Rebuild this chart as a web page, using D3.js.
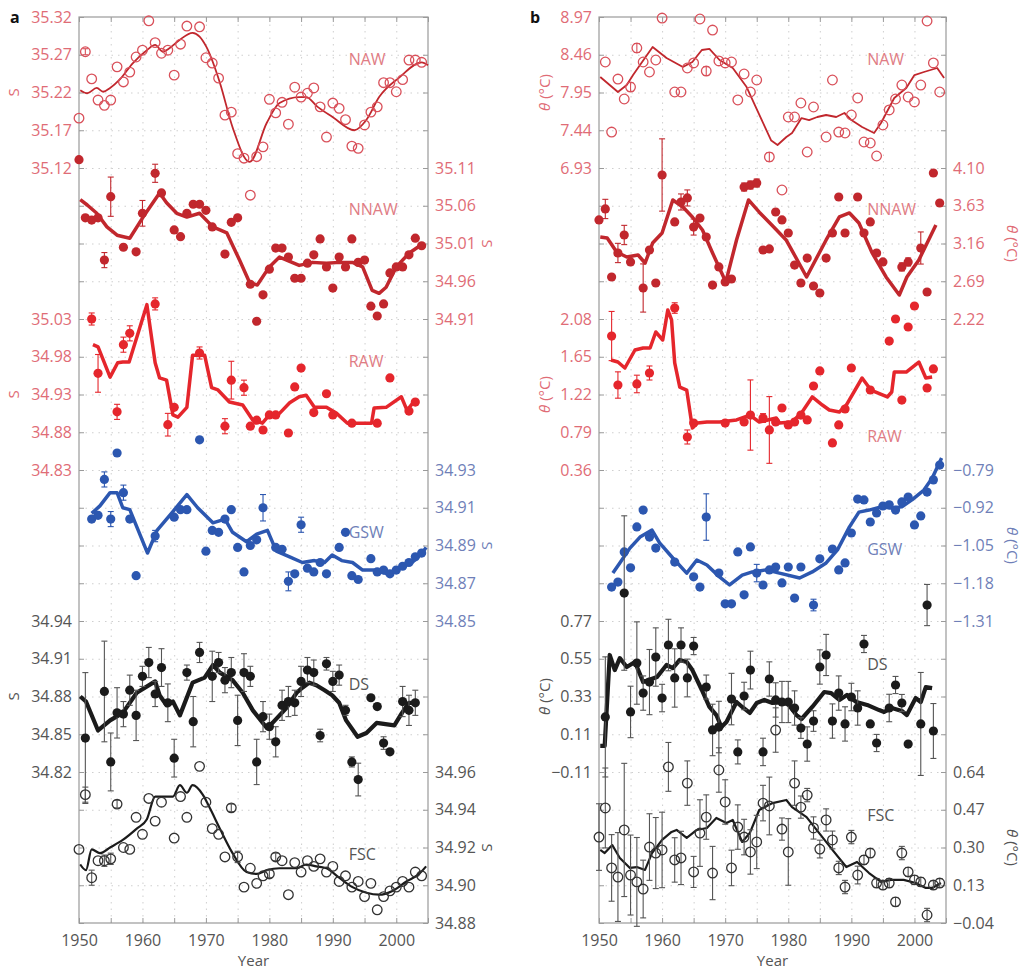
<!DOCTYPE html>
<html>
<head>
<meta charset="utf-8">
<script src="https://cdn.jsdelivr.net/npm/d3@7"></script>
<style>
  body { margin: 0; background: #fff; }
  text { font-family: "Open Sans", "DejaVu Sans", sans-serif; }
</style>
</head>
<body>
<div id="chart"></div>
<script>
// ---------- data (year, value, error) ----------
// panel a : salinity
const nawTicksA  = [35.32, 35.27, 35.22, 35.17, 35.12];
const nnawTicksA = [35.11, 35.06, 35.01, 34.96, 34.91];
const rawTicksA  = [35.03, 34.98, 34.93, 34.88, 34.83];
const gswTicksA  = [34.93, 34.91, 34.89, 34.87, 34.85];
const dsTicksA   = [34.94, 34.91, 34.88, 34.85, 34.82];
const fscTicksA  = [34.96, 34.94, 34.92, 34.90, 34.88];

const nawA = [[1950,35.186],[1951,35.274,0.004],[1952,35.238],[1953,35.210],[1954,35.203],[1955,35.210],[1956,35.254],[1957,35.234],[1958,35.247],[1959,35.267],[1960,35.276],[1961,35.315],[1962,35.286],[1963,35.272],[1964,35.276],[1965,35.243],[1966,35.284],[1967,35.308],[1969,35.307],[1970,35.266],[1971,35.259],[1972,35.239],[1973,35.190],[1974,35.194],[1975,35.139],[1976,35.133],[1977,35.084],[1978,35.135],[1979,35.148],[1980,35.211],[1981,35.193],[1982,35.207],[1983,35.178],[1984,35.227],[1985,35.214],[1986,35.219],[1987,35.226],[1988,35.201],[1989,35.161],[1990,35.206],[1991,35.199],[1992,35.184],[1993,35.149],[1994,35.146],[1995,35.177],[1996,35.194],[1997,35.201],[1998,35.233],[1999,35.233],[2000,35.221],[2001,35.237],[2002,35.263],[2003,35.263],[2004,35.260]];
const nawLineA = [[1950.2,35.223],[1951.3,35.219],[1952.8,35.226],[1953.8,35.221],[1954.9,35.226],[1956.4,35.237],[1958.5,35.259],[1960.7,35.276],[1962,35.283],[1963.2,35.274],[1964.3,35.279],[1965.9,35.29],[1967.9,35.299],[1969,35.294],[1970.1,35.28],[1972.2,35.233],[1974.2,35.174],[1976.9,35.128],[1979.6,35.18],[1981.6,35.206],[1984.7,35.214],[1985.8,35.214],[1987.6,35.201],[1989.9,35.188],[1993.4,35.17],[1995.3,35.184],[1997.3,35.214],[2000.5,35.24],[2004,35.26],[2005,35.256]];

const nnawA = [[1950,35.121],[1951,35.044],[1952,35.041],[1953,35.044],[1954,34.988,0.01],[1955,35.072,0.026],[1957,35.005],[1959,34.999],[1960,35.050,0.017],[1962,35.103,0.012],[1963,35.077],[1965,35.028],[1966,35.019],[1967,35.050],[1968,35.062],[1969,35.062],[1970,35.054],[1971,35.032],[1973,34.996],[1974,35.038],[1975,35.044],[1977,34.956],[1978,34.907],[1979,34.942],[1980,34.976],[1981,35.004],[1982,35.004],[1983,34.992],[1984,34.964],[1985,34.964],[1986,34.984],[1987,34.995],[1988,35.016],[1989,34.979],[1990,34.951],[1991,34.992],[1992,34.979],[1993,35.016],[1994,34.985],[1995,34.988],[1996,34.927],[1997,34.914],[1998,34.930],[1999,34.971],[2000,34.979],[2001,34.979],[2002,34.995],[2003,35.017],[2004,35.007]];
const nnawLineA = [[1950.2,35.068],[1951.3,35.061],[1952.8,35.050],[1954.4,35.032],[1956,35.021],[1958,35.017],[1960.1,35.045],[1962.7,35.077],[1963.8,35.064],[1965.4,35.050],[1967,35.045],[1969,35.050],[1971.1,35.032],[1973.3,35.024],[1975.3,34.988],[1976.9,34.958],[1978.1,34.955],[1980,34.979],[1981.6,34.992],[1984.7,34.981],[1986.8,34.985],[1989,34.984],[1991,34.985],[1993.1,34.985],[1994.7,34.979],[1996.2,34.948],[1997.3,34.944],[1998.4,34.952],[2000,34.979],[2002,34.997],[2003.9,35.008]];

const rawA = [[1952,35.030,0.008],[1953,34.958,0.025],[1956,34.907,0.01],[1957,34.996,0.01],[1958,35.011,0.01],[1962,35.050,0.008],[1964,34.890,0.015],[1965,34.913],[1969,34.985,0.008],[1973,34.888,0.01],[1974,34.949,0.025],[1976,34.939,0.01],[1977,34.888],[1978,34.896],[1979,34.883],[1980,34.903],[1981,34.903],[1983,34.879],[1984,34.940],[1985,34.965],[1987,34.906],[1989,34.931],[1990,34.903],[1993,34.892],[1997,34.892],[1999,34.952],[2002,34.908],[2003,34.920]];
const rawLineA = [[1952.2,34.996],[1953,34.993],[1954.9,34.953],[1956.1,34.972],[1956.9,34.973],[1957.9,34.973],[1960.7,35.049],[1962,34.972],[1962.7,34.952],[1963.8,34.949],[1964.8,34.903],[1965.6,34.900],[1967,34.913],[1967.9,34.982],[1969.8,34.982],[1970.9,34.939],[1971.9,34.936],[1973.7,34.920],[1975.8,34.916],[1977.4,34.896],[1978.9,34.892],[1980,34.903],[1981.6,34.905],[1983.2,34.919],[1984.7,34.927],[1985.8,34.929],[1987.1,34.913],[1989,34.913],[1990.6,34.905],[1992.3,34.892],[1994.2,34.892],[1996.1,34.892],[1996.5,34.912],[1998.4,34.913],[2000.8,34.927],[2001.7,34.909],[2003,34.923]];

const gswA = [[1952,34.904],[1953,34.906],[1954,34.925,0.004],[1955,34.904,0.004],[1956,34.939],[1957,34.918,0.004],[1958,34.904],[1959,34.874],[1962,34.895,0.003],[1965,34.905],[1966,34.909],[1967,34.909],[1969,34.946],[1970,34.887],[1971,34.898],[1972,34.897],[1973,34.904],[1974,34.909],[1975,34.889],[1976,34.876],[1977,34.890],[1978,34.893],[1979,34.910,0.007],[1981,34.889],[1982,34.888],[1983,34.871,0.005],[1984,34.875],[1985,34.901,0.004],[1986,34.878],[1987,34.876],[1988,34.881],[1989,34.875],[1991,34.889],[1992,34.897],[1993,34.874],[1994,34.872],[1996,34.883],[1997,34.876],[1998,34.877],[1999,34.875],[2000,34.877],[2001,34.879],[2002,34.881],[2003,34.884],[2004,34.886]];
const gswLineA = [[1952,34.907],[1953.3,34.911],[1954.9,34.918],[1956,34.918],[1956.9,34.910],[1958,34.909],[1960.8,34.886],[1962.3,34.898],[1964.8,34.908],[1967,34.917],[1968.7,34.910],[1971.1,34.902],[1973,34.904],[1974.2,34.897],[1976.4,34.892],[1978,34.896],[1979.7,34.898],[1981.1,34.887],[1983.2,34.884],[1985.2,34.881],[1987.1,34.882],[1988.7,34.881],[1989.9,34.885],[1991.4,34.882],[1993.1,34.881],[1994.7,34.877],[1996.9,34.877],[1998.6,34.875],[2000.5,34.878],[2002.5,34.881],[2004.1,34.886],[2004.7,34.889]];

const dsA = [[1951,34.847,0.052],[1954,34.884,0.04],[1955,34.828,0.023],[1956,34.867,0.02],[1957,34.866,0.01],[1958,34.885,0.012],[1959,34.865,0.02],[1960,34.896,0.008],[1961,34.907,0.012],[1962,34.882,0.01],[1963,34.903,0.015],[1964,34.875,0.015],[1965,34.831,0.015],[1967,34.899,0.006],[1968,34.860,0.02],[1969,34.915,0.008],[1971,34.896,0.02],[1972,34.907,0.008],[1973,34.893,0.01],[1974,34.899,0.012],[1975,34.861,0.02],[1976,34.899,0.015],[1977,34.896,0.008],[1978,34.828,0.018],[1979,34.864,0.012],[1980,34.856,0.01],[1981,34.844,0.012],[1982,34.873,0.012],[1983,34.876,0.012],[1984,34.875,0.01],[1985,34.892,0.012],[1986,34.901,0.01],[1987,34.899,0.01],[1988,34.849,0.005],[1989,34.906,0.005],[1990,34.892,0.008],[1991,34.897,0.008],[1992,34.869,0.004],[1993,34.828,0.004],[1994,34.814,0.013],[1996,34.879],[1997,34.872],[1998,34.843,0.005],[1999,34.836],[2001,34.876,0.012],[2002,34.869,0.012],[2003,34.875,0.01]];
const dsLineA = [[1950.2,34.880],[1951.1,34.876],[1953,34.853],[1954.9,34.861],[1956.9,34.867],[1959.1,34.883],[1962,34.892],[1962.7,34.881],[1963.8,34.873],[1964.8,34.876],[1965.9,34.865],[1967.9,34.891],[1969.8,34.895],[1971.1,34.905],[1972.2,34.899],[1974.2,34.893],[1975.8,34.883],[1977.4,34.869],[1979.6,34.855],[1980.5,34.859],[1982.7,34.871],[1984.3,34.883],[1985.2,34.887],[1986.3,34.891],[1987.4,34.889],[1988.7,34.885],[1989.9,34.881],[1991,34.875],[1992.1,34.861],[1993.9,34.848],[1995.3,34.851],[1996.9,34.859],[1999.7,34.857],[2000.9,34.867],[2002,34.875],[2003.1,34.875]];

const fscA = [[1950,34.919],[1951,34.948,0.004],[1952,34.904,0.004],[1953,34.913],[1954,34.913,0.003],[1955,34.914,0.003],[1956,34.943,0.002],[1957,34.920],[1958,34.919],[1959,34.936],[1960,34.927],[1961,34.946],[1962,34.934],[1963,34.944],[1965,34.925],[1966,34.947],[1967,34.936],[1969,34.963],[1970,34.944],[1971,34.930],[1972,34.927],[1973,34.915],[1974,34.941,0.002],[1975,34.915,0.003],[1976,34.899],[1977,34.909],[1978,34.901],[1979,34.905],[1980,34.906,0.002],[1981,34.915,0.002],[1982,34.913],[1983,34.895],[1984,34.912],[1985,34.907],[1986,34.913],[1987,34.910],[1988,34.914],[1989,34.907],[1990,34.910],[1991,34.902],[1992,34.905],[1993,34.899],[1994,34.902],[1995,34.894],[1996,34.901],[1997,34.887],[1998,34.894],[1999,34.897],[2000,34.899],[2001,34.902],[2002,34.899],[2003,34.907],[2004,34.905]];
const fscLineA = [[1950.2,34.911],[1951.1,34.908],[1952,34.919],[1953.3,34.917],[1954.9,34.920],[1956.9,34.924],[1959.1,34.930],[1960.7,34.935],[1962,34.947],[1964.8,34.947],[1965.9,34.953],[1967,34.949],[1967.9,34.953],[1969.5,34.948],[1970.6,34.941],[1972.2,34.930],[1974.2,34.917],[1976.4,34.907],[1978,34.906],[1979.6,34.908],[1981.6,34.909],[1984.3,34.909],[1985.8,34.911],[1987.4,34.910],[1989,34.909],[1991,34.904],[1993.1,34.899],[1995.3,34.896],[1997.3,34.895],[1999.4,34.897],[2001.6,34.902],[2003.6,34.906],[2004.7,34.910]];

// panel b : potential temperature
const nawTicksB  = [8.97, 8.46, 7.95, 7.44, 6.93];
const nnawTicksB = [4.10, 3.63, 3.16, 2.69, 2.22];
const rawTicksB  = [2.08, 1.65, 1.22, 0.79, 0.36];
const gswTicksB  = [-0.79, -0.92, -1.05, -1.18, -1.31];
const dsTicksB   = [0.77, 0.55, 0.33, 0.11, -0.11];
const fscTicksB  = [0.64, 0.47, 0.30, 0.13, -0.04];

const nawB = [[1951,8.362],[1952,7.416],[1953,8.132],[1954,7.862],[1955,8.024,0.06],[1956,8.551,0.06],[1957,8.362],[1958,8.227],[1959,8.389],[1960,8.956],[1962,7.957],[1963,7.957],[1964,8.281],[1965,8.349],[1966,8.943],[1967,8.240,0.06],[1968,8.794],[1969,8.376],[1970,8.349],[1971,8.362],[1972,7.849],[1973,8.200],[1974,7.957],[1975,8.119],[1977,7.079,0.06],[1979,6.633],[1980,7.619],[1981,7.619],[1982,7.808],[1983,7.146],[1984,7.754],[1986,7.349],[1987,8.119],[1988,7.416],[1989,7.403],[1990,7.646],[1991,7.876],[1992,7.281],[1993,7.268],[1994,7.092],[1995,7.511],[1996,7.714],[1997,7.862],[1998,8.051],[1999,7.889],[2000,7.822],[2001,8.051],[2002,8.916],[2003,8.349],[2004,7.957]];
const nawLineB = [[1950.2,8.159],[1953,7.957],[1954.4,8.051],[1955.4,8.186],[1956.5,8.321],[1958.5,8.565],[1960.7,8.416],[1963.3,8.295],[1964.8,8.362],[1966.3,8.524],[1967.5,8.538],[1969.1,8.389],[1971.2,8.281],[1973.4,8.024],[1975.4,7.65],[1977.3,7.3],[1978.3,7.241],[1979.7,7.349],[1980.6,7.403],[1982.1,7.605],[1983.3,7.578],[1984.6,7.619],[1986,7.646],[1987.6,7.619],[1988.9,7.673],[1990,7.578],[1991.7,7.484],[1993.6,7.403],[1994.7,7.538],[1996.8,7.876],[1998.7,8.011],[2000,8.186],[2001.5,8.227],[2003.6,8.281],[2004.7,8.146]];

const nnawB = [[1950,3.453],[1951,3.590,0.12],[1952,2.743],[1953,3.042,0.12],[1954,3.266,0.12],[1955,2.930],[1957,2.606,0.3],[1958,3.079],[1959,2.668],[1960,4.013,0.45],[1962,3.428],[1963,3.677,0.1],[1964,3.727,0.1],[1965,3.365,0.1],[1966,3.477],[1967,3.241],[1968,2.643],[1969,2.868],[1970,2.681],[1971,2.718],[1973,3.863,0.05],[1974,3.888,0.05],[1975,3.913,0.05],[1976,3.079],[1977,3.092],[1978,3.552],[1979,3.453],[1980,3.291],[1981,2.892],[1982,2.668],[1983,2.979],[1984,2.631],[1985,2.544],[1986,2.979],[1987,3.291],[1988,3.739],[1989,3.291],[1991,3.739],[1992,3.291],[1993,3.428],[1994,3.042],[1995,2.930],[1998,2.868,0.05],[1999,2.930,0.05],[2001,3.104,0.2],[2002,2.556],[2003,4.038],[2004,3.664]];
const nnawLineB = [[1950.2,3.241],[1951.3,3.229],[1952.8,3.054],[1954.4,2.992],[1956.2,3.017],[1957.3,2.917],[1958.5,3.166],[1960,3.291],[1961.7,3.702],[1963.3,3.614],[1964.8,3.490],[1966.4,3.328],[1968,3.042],[1970.1,2.681],[1971.8,3.204],[1973.7,3.702],[1975.4,3.55],[1977.5,3.38],[1979.7,3.2],[1982.9,2.743],[1986,3.204],[1988.1,3.490],[1989.7,3.540],[1991.2,3.415],[1993.3,3.042],[1995.5,2.743],[1997.6,2.519],[1998.8,2.743],[2000.7,2.955],[2003.4,3.390]];

const rawB = [[1952,1.886,0.28],[1953,1.328,0.15],[1956,1.340,0.1],[1958,1.465,0.08],[1962,2.205,0.06],[1964,0.736,0.08],[1965,0.895],[1970,0.895,0.03],[1973,0.907],[1974,0.986,0.4],[1976,0.952,0.05],[1977,0.816,0.38],[1978,0.907],[1979,1.066],[1980,0.873],[1981,0.907],[1982,0.986],[1983,0.930],[1984,1.317],[1985,1.488],[1987,0.668],[1988,0.873],[1989,1.055],[1990,1.522],[1993,1.271],[1996,1.829],[1997,2.080],[1998,1.157],[1999,1.989],[2000,2.228],[2002,1.294],[2003,1.511]];
const rawLineB = [[1951.9,1.613],[1953,1.590],[1954.1,1.522],[1955.7,1.727],[1957,1.750],[1958.1,1.750],[1959,1.932],[1960.1,1.841],[1960.9,2.183],[1961.5,2.069],[1962,1.579],[1962.8,1.305],[1963.9,1.271],[1964.8,0.838],[1965.6,0.895],[1967.1,0.907],[1969.1,0.907],[1971.8,0.930],[1973.9,0.986],[1975.4,0.907],[1978.1,0.952],[1978.6,0.895],[1980.6,0.907],[1982.2,1.021],[1983.8,1.192],[1985.4,1.100],[1986.5,1.043],[1988.1,1.021],[1989.2,1.100],[1991.7,1.408],[1993.1,1.271],[1995.7,1.192],[1996.4,1.248],[1996.8,1.476],[1998.7,1.476],[2000.7,1.590],[2001.8,1.408],[2002.8,1.419]];

const gswB = [[1952,-1.193],[1953,-1.176],[1954,-1.072],[1955,-1.127],[1956,-0.986],[1957,-0.928],[1958,-1.021],[1959,-1.059],[1962,-1.107],[1965,-1.158],[1966,-1.193],[1967,-0.952,0.08],[1969,-1.145],[1970,-1.251],[1971,-1.251],[1972,-1.072],[1973,-1.220],[1974,-1.055],[1975,-1.145,0.03],[1976,-1.186],[1977,-1.134],[1978,-1.124],[1979,-1.179],[1980,-1.124],[1981,-1.231],[1982,-1.124],[1984,-1.255,0.02],[1985,-1.096],[1987,-1.062],[1988,-1.134],[1989,-1.110],[1990,-1.007],[1991,-0.890],[1992,-0.893],[1993,-0.969],[1994,-0.938],[1995,-0.914],[1996,-0.910],[1997,-0.928],[1998,-0.900],[1999,-0.883],[2000,-0.979],[2001,-0.948],[2002,-0.866],[2003,-0.824],[2004,-0.773]];
const gswLineB = [[1952.2,-1.145],[1953.3,-1.110],[1954.9,-1.059],[1956.5,-1.021],[1958.4,-0.997],[1959.6,-1.041],[1961.7,-1.093],[1963.9,-1.145],[1965.5,-1.100],[1967.1,-1.117],[1969.1,-1.158],[1970.7,-1.186],[1972.7,-1.152],[1974.3,-1.141],[1976.5,-1.134],[1978.6,-1.145],[1981.8,-1.162],[1983.8,-1.141],[1986,-1.110],[1987.8,-1.065],[1989.7,-0.986],[1991.2,-0.935],[1992.8,-0.928],[1994.7,-0.917],[1996.3,-0.921],[1998,-0.917],[1999.6,-0.893],[2001.5,-0.859],[2002.8,-0.818],[2004.3,-0.749]];

const dsB = [[1951,0.211,0.35],[1954,0.933,0.45],[1955,0.240,0.15],[1956,0.525,0.24],[1957,0.350,0.1],[1958,0.414,0.19],[1959,0.560,0.17],[1960,0.321,0.08],[1961,0.630,0.15],[1962,0.438,0.17],[1963,0.630,0.1],[1964,0.438,0.11],[1965,0.624,0.05],[1967,0.385,0.07],[1968,0.135,0.15],[1969,0.152,0.15],[1971,0.315,0.15],[1972,0.007,0.07],[1973,0.333,0.08],[1974,0.484,0.11],[1976,0.007,0.08],[1977,0.432,0.1],[1978,0.310,0.1],[1979,0.298,0.12],[1980,0.298,0.12],[1981,0.263,0.1],[1982,0.146,0.06],[1983,0.053,0.1],[1984,0.187,0.06],[1985,0.502,0.1],[1986,0.572,0.12],[1987,0.187,0.1],[1988,0.350,0.1],[1989,0.170,0.1],[1990,0.327,0.08],[1991,0.263,0.1],[1992,0.636,0.05],[1993,0.170],[1994,0.059,0.05],[1996,0.263,0.08],[1997,0.397,0.05],[1998,0.292,0.05],[1999,0.053],[2001,0.170,0.3],[2002,0.863,0.12],[2003,0.129,0.16]];
const dsLineB = [[1950.2,0.042],[1950.9,0.042],[1951.7,0.572],[1952.5,0.484],[1953.3,0.554],[1954.4,0.502],[1955.7,0.531],[1957,0.414],[1959.2,0.444],[1960.7,0.514],[1961.7,0.496],[1962.8,0.543],[1963.9,0.531],[1964.8,0.484],[1966.3,0.368],[1967.5,0.269],[1968.6,0.222],[1969.4,0.152],[1970.2,0.181],[1971.8,0.298],[1972.7,0.269],[1973.9,0.234],[1975,0.292],[1976.2,0.310],[1977.5,0.292],[1979.7,0.298],[1981.3,0.222],[1982.1,0.199],[1983.8,0.269],[1985.7,0.356],[1986.8,0.350],[1988.1,0.310],[1989.3,0.339],[1990.8,0.298],[1992.5,0.281],[1994.4,0.251],[1995.2,0.240],[1996.4,0.263],[1998,0.246],[1998.8,0.222],[2000.2,0.321],[2001,0.298],[2001.8,0.385],[2002.8,0.379]];

const fscB = [[1950,0.347,0.15],[1951,0.478,0.18],[1952,0.208,0.15],[1953,0.167,0.2],[1954,0.379,0.3],[1955,0.176,0.18],[1956,0.145,0.2],[1957,0.113,0.13],[1958,0.302,0.15],[1959,0.275,0.16],[1960,0.289,0.17],[1961,0.663,0.11],[1962,0.244,0.1],[1963,0.253,0.12],[1964,0.590,0.1],[1965,0.190,0.07],[1966,0.365,0.15],[1967,0.437,0.1],[1968,0.185,0.12],[1969,0.649,0.1],[1970,0.505,0.1],[1971,0.208,0.08],[1972,0.392,0.1],[1973,0.347,0.08],[1974,0.280,0.1],[1975,0.325,0.12],[1976,0.500,0.08],[1977,0.487,0.13],[1978,0.829,0.1],[1979,0.383,0.05],[1980,0.280,0.15],[1981,0.590,0.1],[1982,0.482,0.05],[1983,0.536,0.03],[1984,0.388,0.05],[1985,0.293,0.04],[1986,0.424,0.05],[1987,0.334,0.04],[1988,0.208,0.03],[1989,0.122,0.03],[1990,0.347,0.03],[1991,0.176,0.04],[1992,0.244,0.02],[1993,0.275,0.02],[1994,0.140,0.02],[1995,0.131,0.02],[1996,0.140,0.02],[1997,0.055,0.02],[1998,0.275,0.03],[1999,0.190,0.02],[2000,0.154,0.02],[2001,0.145,0.02],[2002,-0.004,0.03],[2003,0.131,0.02],[2004,0.140,0.02]];
const fscLineB = [[1950.2,0.289],[1950.9,0.275],[1952.1,0.311],[1953.3,0.253],[1954.9,0.208],[1956,0.212],[1957.3,0.199],[1958.4,0.275],[1960,0.334],[1961.5,0.370],[1962.3,0.379],[1963.9,0.343],[1965.5,0.379],[1967.1,0.388],[1968.6,0.433],[1970.2,0.410],[1971.2,0.424],[1972.7,0.325],[1973.9,0.365],[1975.4,0.469],[1977.5,0.500],[1979.7,0.514],[1980.6,0.482],[1982.9,0.437],[1984.9,0.365],[1987,0.289],[1989.2,0.212],[1990.9,0.235],[1992.8,0.185],[1994.7,0.145],[1996.3,0.154],[1998.3,0.154],[2000.2,0.140],[2001.8,0.118],[2002.8,0.118],[2004.2,0.140]];

const yearTicks = [1950, 1960, 1970, 1980, 1990, 2000];

// ---------- layout ----------
const width = 1022, height = 969;
const plotTop = 17, plotBottom = 923;
const svg = d3.select("#chart").append("svg")
    .attr("width", width)
    .attr("height", height);

const grid = d3.scaleLinear().domain([0, 24]).range([plotTop, plotBottom]);

const RED_DARK = "#c1272d", RED_OPEN = "#d9505a", RED = "#e5262c";
const RED_TXT = "#df6c76", BLUE = "#2c57b0", BLUE_TXT = "#6f7fb8";
const BLACK = "#1b1b1b", GREY_TXT = "#555";

const fmt2 = d => d3.format(".2f")(d).replace("-", "\u2212");

const panels = [
  {
    letter: "a", x0: 79, x1: 428, title: "S", titleLeftX: 14, titleRightX: 487,
    series: [
      {name: "NAW",  pts: nawA,  line: nawLineA,  ticks: nawTicksA,  start: 0,  side: "left",  color: RED_DARK, dot: RED_OPEN, open: true,  lw: 1.8, smooth: true,  txt: RED_TXT, lab: 1.27},
      {name: "NNAW", pts: nnawA, line: nnawLineA, ticks: nnawTicksA, start: 4,  side: "right", color: RED_DARK, dot: RED_DARK, open: false, lw: 3.5, txt: RED_TXT, lab: 5.25},
      {name: "RAW",  pts: rawA,  line: rawLineA,  ticks: rawTicksA,  start: 8,  side: "left",  color: RED,      dot: RED,      open: false, lw: 3.5, txt: RED_TXT, lab: 9.27},
      {name: "GSW",  pts: gswA,  line: gswLineA,  ticks: gswTicksA,  start: 12, side: "right", color: BLUE,     dot: BLUE,     open: false, lw: 3.5, txt: BLUE_TXT, lab: 13.8},
      {name: "DS",   pts: dsA,   line: dsLineA,   ticks: dsTicksA,   start: 16, side: "left",  color: BLACK,    dot: BLACK,    open: false, lw: 4.2, txt: GREY_TXT, lab: 17.83},
      {name: "FSC",  pts: fscA,  line: fscLineA,  ticks: fscTicksA,  start: 20, side: "right", color: BLACK,    dot: "#333",   open: true,  lw: 2.2, smooth: true, txt: GREY_TXT, lab: 22.33}
    ]
  },
  {
    letter: "b", x0: 599, x1: 946, title: "theta", titleLeftX: 545, titleRightX: 1012,
    series: [
      {name: "NAW",  pts: nawB,  line: nawLineB,  ticks: nawTicksB,  start: 0,  side: "left",  color: RED_DARK, dot: RED_OPEN, open: true,  lw: 1.8, txt: RED_TXT, lab: 1.27},
      {name: "NNAW", pts: nnawB, line: nnawLineB, ticks: nnawTicksB, start: 4,  side: "right", color: RED_DARK, dot: RED_DARK, open: false, lw: 3.5, txt: RED_TXT, lab: 5.25},
      {name: "RAW",  pts: rawB,  line: rawLineB,  ticks: rawTicksB,  start: 8,  side: "left",  color: RED,      dot: RED,      open: false, lw: 3.5, txt: RED_TXT, lab: 11.26},
      {name: "GSW",  pts: gswB,  line: gswLineB,  ticks: gswTicksB,  start: 12, side: "right", color: BLUE,     dot: BLUE,     open: false, lw: 3.5, txt: BLUE_TXT, lab: 14.25},
      {name: "DS",   pts: dsB,   line: dsLineB,   ticks: dsTicksB,   start: 16, side: "left",  color: BLACK,    dot: BLACK,    open: false, lw: 4.2, txt: GREY_TXT, lab: 17.3},
      {name: "FSC",  pts: fscB,  line: fscLineB,  ticks: fscTicksB,  start: 20, side: "right", color: BLACK,    dot: "#333",   open: true,  lw: 2.2, txt: GREY_TXT, lab: 21.3}
    ]
  }
];

function addTitle(g, p, x, y, rot, col) {
  const t = g.append("text")
      .attr("transform", `translate(${x},${y}) rotate(${rot})`)
      .attr("text-anchor", "middle")
      .attr("dy", "0.35em")
      .attr("fill", col)
      .style("font-size", "15px");
  if (p.title === "S") {
    t.text("S");
  } else {
    t.append("tspan").style("font-style", "italic").text("\u03b8");
    t.append("tspan").text(" (\u00b0C)");
  }
}

panels.forEach(p => {
  const g = svg.append("g");
  const x = d3.scaleLinear().domain([1950, 2005]).range([p.x0, p.x1]);
  const w = p.x1 - p.x0;

  // dotted grid
  g.append("g")
      .attr("transform", `translate(0,${plotBottom})`)
      .call(d3.axisBottom(x).tickValues(d3.range(1955, 2005, 5)).tickSize(-(plotBottom - plotTop)).tickFormat(""))
      .call(a => a.select(".domain").remove())
      .selectAll("line").attr("stroke", "#cfcfcf").attr("stroke-dasharray", "1.5,5");
  g.append("g")
      .attr("transform", `translate(${p.x0},0)`)
      .call(d3.axisLeft(grid).tickValues(d3.range(1, 24)).tickSize(-w).tickFormat(""))
      .call(a => a.select(".domain").remove())
      .selectAll("line").attr("stroke", "#cfcfcf").attr("stroke-dasharray", "1.5,5");

  // frame
  g.append("rect")
      .attr("x", p.x0).attr("y", plotTop)
      .attr("width", w).attr("height", plotBottom - plotTop)
      .attr("fill", "none").attr("stroke", "#9a9a9a").attr("stroke-width", 1.2);

  // inward ticks all round
  const tickStyle = a => { a.select(".domain").remove(); a.selectAll("line").attr("stroke", "#9a9a9a"); };
  g.append("g").attr("transform", `translate(${p.x0},0)`)
      .call(d3.axisLeft(grid).tickValues(d3.range(0, 25)).tickSize(-5).tickFormat("")).call(tickStyle);
  g.append("g").attr("transform", `translate(${p.x1},0)`)
      .call(d3.axisRight(grid).tickValues(d3.range(0, 25)).tickSize(-5).tickFormat("")).call(tickStyle);
  g.append("g").attr("transform", `translate(0,${plotTop})`)
      .call(d3.axisTop(x).tickValues(d3.range(1950, 2006, 5)).tickSize(-5).tickFormat("")).call(tickStyle);

  // bottom axis
  const xa = g.append("g").attr("transform", `translate(0,${plotBottom})`)
      .call(d3.axisBottom(x).tickValues(d3.range(1950, 2006, 5)).tickSize(-5)
        .tickPadding(12).tickFormat(d => yearTicks.includes(d) ? d3.format("d")(d) : ""));
  xa.call(tickStyle);
  xa.selectAll("text").attr("fill", GREY_TXT).style("font-size", "16px");

  g.append("text")
      .attr("x", (p.x0 + p.x1) / 2).attr("y", 966)
      .attr("text-anchor", "middle").attr("fill", GREY_TXT)
      .style("font-size", "15px").text("Year");

  g.append("text")
      .attr("x", p.x0 - 69).attr("y", 23)
      .attr("fill", "#111").style("font-size", "16px").style("font-weight", "700")
      .text(p.letter);

  p.series.forEach(s => {
    const y = d3.scaleLinear()
        .domain([s.ticks[0], s.ticks[s.ticks.length - 1]])
        .range([grid(s.start), grid(s.start + s.ticks.length - 1)]);

    // tick labels
    const axis = s.side === "left" ? d3.axisLeft(y) : d3.axisRight(y);
    const ag = g.append("g")
        .attr("transform", `translate(${s.side === "left" ? p.x0 : p.x1},0)`)
        .call(axis.tickValues(s.ticks).tickSize(0).tickPadding(7).tickFormat(fmt2));
    ag.select(".domain").remove();
    ag.selectAll("text").attr("fill", s.txt).style("font-size", "16px");

    // axis title
    const mid = grid(s.start + 2);
    if (s.side === "left") addTitle(g, p, p.titleLeftX, mid, -90, s.txt);
    else addTitle(g, p, p.titleRightX, mid, 90, s.txt);

    // line
    const line = d3.line()
        .x(d => x(d[0]))
        .y(d => y(d[1]))
        .curve(s.smooth ? d3.curveMonotoneX : d3.curveLinear);
    g.append("path")
        .datum(s.line)
        .attr("fill", "none")
        .attr("stroke", s.color)
        .attr("stroke-width", s.lw)
        .attr("stroke-linejoin", "round")
        .attr("d", line);

    // error bars
    const eb = g.append("g")
        .attr("stroke", s.color === BLACK ? "#555" : s.dot)
        .attr("stroke-width", 1.1);
    s.pts.filter(d => d[2]).forEach(d => {
      const cx = x(d[0]);
      const y1 = y(d[1] - d[2]), y2 = y(d[1] + d[2]);
      eb.append("line").attr("x1", cx).attr("x2", cx).attr("y1", y1).attr("y2", y2);
      eb.append("line").attr("x1", cx - 3).attr("x2", cx + 3).attr("y1", y1).attr("y2", y1);
      eb.append("line").attr("x1", cx - 3).attr("x2", cx + 3).attr("y1", y2).attr("y2", y2);
    });

    // points
    g.append("g").selectAll("circle")
        .data(s.pts)
        .join("circle")
        .attr("cx", d => x(d[0]))
        .attr("cy", d => y(d[1]))
        .attr("r", s.open ? 4.8 : 4.6)
        .attr("fill", s.open ? "none" : s.dot)
        .attr("stroke", s.open ? s.dot : "none")
        .attr("stroke-width", 1.3);

    // series label
    g.append("text")
        .attr("x", x(1992.5))
        .attr("y", grid(s.lab))
        .attr("fill", s.name === "GSW" ? BLUE_TXT : (s.color === BLACK ? GREY_TXT : "#e07c84"))
        .style("font-size", "16px")
        .text(s.name);
  });
});
</script>
</body>
</html>
